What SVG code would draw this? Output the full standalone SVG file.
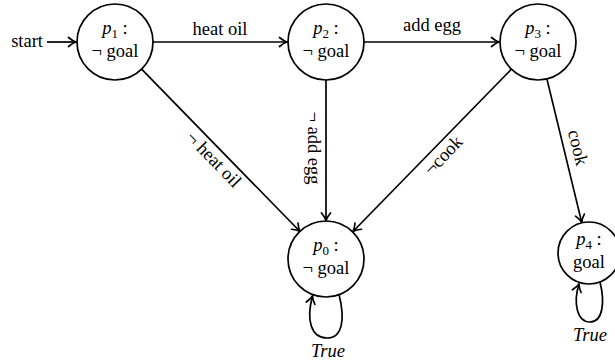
<svg xmlns="http://www.w3.org/2000/svg" width="615" height="362" viewBox="0 0 615 362">
<style>
text{font-family:"Liberation Serif","DejaVu Serif",serif;font-size:18.5px;fill:#000}
.c{text-anchor:middle}
.it{font-style:italic}
.node circle{fill:#fff;stroke:#000;stroke-width:1.7}
.edges path,.edges line{fill:none;stroke:#000;stroke-width:1.7}
</style>
<defs>
<marker id="arr" markerUnits="userSpaceOnUse" markerWidth="12" markerHeight="12" refX="10" refY="6" orient="auto" viewBox="0 0 12 12">
<path d="M2.5,1.5 C5.5,4 8,5.4 10,6 C8,6.6 5.5,8 2.5,10.5" fill="none" stroke="#000" stroke-width="1.7" stroke-linecap="round"/>
</marker>
</defs>
<g class="edges" id="edges">
<line x1="47" y1="42" x2="76" y2="42" marker-end="url(#arr)"/>
<line x1="153" y1="42" x2="287" y2="42" marker-end="url(#arr)"/>
<line x1="364" y1="42" x2="499" y2="42" marker-end="url(#arr)"/>
<line x1="141.6" y1="69.2" x2="300" y2="231.5" marker-end="url(#arr)"/>
<line x1="326" y1="80" x2="326" y2="220.5" marker-end="url(#arr)"/>
<line x1="511.4" y1="69.2" x2="353" y2="231.5" marker-end="url(#arr)"/>
<line x1="546.9" y1="78.9" x2="581.7" y2="222.4" marker-end="url(#arr)"/>
<path d="M339,294.5 C345,318 343,338 327,338 C311,338 306,320 312.5,296" marker-end="url(#arr)"/>
<path d="M600,282 C605,302 603,322 590,322 C577,322 573,303 579,284" marker-end="url(#arr)"/>
<text x="43" y="47" style="text-anchor:end">start</text>
<text class="c" x="220" y="35">heat oil</text>
<text class="c" x="432" y="31">add egg</text>
<text class="c" transform="translate(209.4,163.5) rotate(45.8)">¬ heat oil</text>
<text class="c" transform="translate(307.5,148) rotate(90)">¬ add egg</text>
<text class="c" transform="translate(447.6,159.5) rotate(-45.8)">¬cook</text>
<text class="c" transform="translate(572.1,148.9) rotate(76.4)">cook</text>
<text class="c it" x="328" y="357">True</text>
<text class="c it" x="590" y="341">True</text>
</g>
<g class="node" id="p1">
<circle cx="115" cy="42" r="38"/>
<text class="c" x="115" y="34"><tspan class="it">p</tspan><tspan font-size="13" dy="4">1</tspan><tspan dy="-4"> :</tspan></text>
<text class="c" x="115" y="57">¬ goal</text>
</g>
<g class="node" id="p2">
<circle cx="326" cy="42" r="38"/>
<text class="c" x="326" y="34"><tspan class="it">p</tspan><tspan font-size="13" dy="4">2</tspan><tspan dy="-4"> :</tspan></text>
<text class="c" x="326" y="57">¬ goal</text>
</g>
<g class="node" id="p3">
<circle cx="538" cy="42" r="38"/>
<text class="c" x="538" y="34"><tspan class="it">p</tspan><tspan font-size="13" dy="4">3</tspan><tspan dy="-4"> :</tspan></text>
<text class="c" x="538" y="57">¬ goal</text>
</g>
<g class="node" id="p0">
<circle cx="326" cy="259" r="38"/>
<text class="c" x="326" y="251"><tspan class="it">p</tspan><tspan font-size="13" dy="4">0</tspan><tspan dy="-4"> :</tspan></text>
<text class="c" x="326" y="274">¬ goal</text>
</g>
<g class="node" id="p4">
<circle cx="589" cy="253" r="31"/>
<text class="c" x="589" y="245"><tspan class="it">p</tspan><tspan font-size="13" dy="4">4</tspan><tspan dy="-4"> :</tspan></text>
<text class="c" x="589" y="268">goal</text>
</g>
</svg>
